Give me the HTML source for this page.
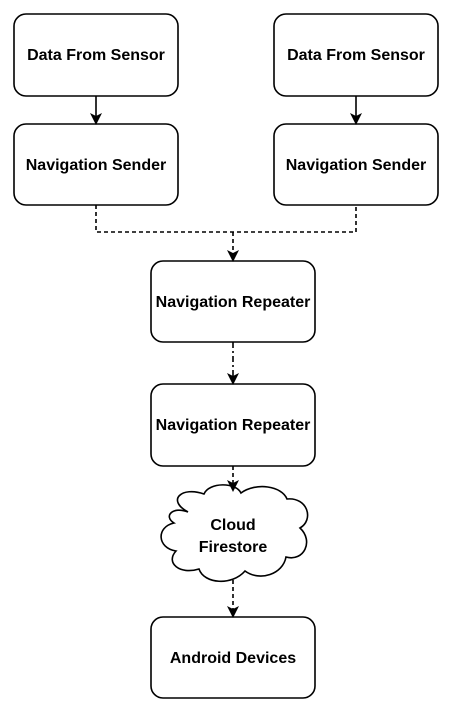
<!DOCTYPE html>
<html><head><style>
body{margin:0;background:#fff;}
svg text{font-family:"Liberation Sans",Arial,sans-serif;font-weight:bold;font-size:16px;fill:#000;text-anchor:middle;}
</style></head><body>
<svg width="452" height="713" viewBox="0 0 452 713" xmlns="http://www.w3.org/2000/svg">
<defs><marker id="a" markerWidth="12" markerHeight="12" refX="10" refY="6" orient="auto" markerUnits="userSpaceOnUse"><path d="M0,0 L12,6 L0,12 L3,6 Z" fill="#000"/></marker></defs>
<g fill="#fff" stroke="#000" stroke-width="1.6">
<rect x="14" y="14" width="164" height="82" rx="12"/>
<rect x="274" y="14" width="164" height="82" rx="12"/>
<rect x="14" y="124" width="164" height="81" rx="12"/>
<rect x="274" y="124" width="164" height="81" rx="12"/>
<rect x="151" y="261" width="164" height="81" rx="12"/>
<rect x="151" y="384" width="164" height="82" rx="12"/>
<rect x="151" y="617" width="164" height="81" rx="12"/>
<path d="M188,512 C166,500 182,486 204,494 C209,482 236,482 241,493 C256,482 282,486 287,499 C308,497 314,520 300,528 C314,541 304,562 286,557 C283,574 260,582 245,571 C232,586 204,584 199,569 C180,575 165,563 176,551 C157,548 156,527 174,523 C163,516 173,506 188,512 Z"/>
</g>
<g stroke="#000" stroke-width="1.6" fill="none">
<line x1="96" y1="96" x2="96" y2="123" marker-end="url(#a)"/>
<line x1="356" y1="96" x2="356" y2="123" marker-end="url(#a)"/>
<path d="M96,205 V232 H356 V205" stroke-dasharray="4,3"/>
<line x1="233" y1="232" x2="233" y2="260" stroke-dasharray="4,3" marker-end="url(#a)"/>
<line x1="233" y1="342" x2="233" y2="383" stroke-dasharray="6,3,2,3" marker-end="url(#a)"/>
<line x1="233" y1="466" x2="233" y2="490" stroke-dasharray="4,3" marker-end="url(#a)"/>
<line x1="233" y1="580" x2="233" y2="616" stroke-dasharray="4,3" marker-end="url(#a)"/>
</g>
<text x="96" y="60">Data From Sensor</text>
<text x="356" y="60">Data From Sensor</text>
<text x="96" y="170">Navigation Sender</text>
<text x="356" y="170">Navigation Sender</text>
<text x="233" y="307">Navigation Repeater</text>
<text x="233" y="430">Navigation Repeater</text>
<text x="233" y="530">Cloud</text>
<text x="233" y="552">Firestore</text>
<text x="233" y="663">Android Devices</text>
</svg>
</body></html>
